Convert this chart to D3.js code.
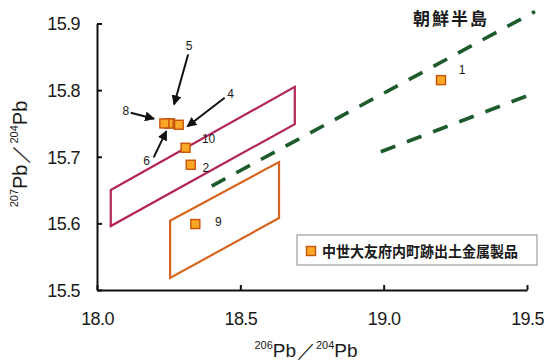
<!DOCTYPE html>
<html><head><meta charset="utf-8">
<script src="https://cdn.jsdelivr.net/npm/d3@7"></script>
<style>
html,body{margin:0;padding:0;background:#fff;}
svg{display:block;}
text{font-family:"Liberation Sans",Arial,sans-serif;fill:#1a1a1a;}
text.cjk{font-family:"Noto Sans CJK JP","Noto Sans CJK SC",sans-serif;}
</style></head>
<body>
<svg id="chart" width="546" height="363"></svg>
<script>
// ---- data ----
const xTicks = [18.0, 18.5, 19.0, 19.5];
const yTicks = [15.5, 15.6, 15.7, 15.8, 15.9];
const sampleIds = ["1", "2", "4", "5", "6", "8", "9", "10"];
const pb206_204 = [19.20, 18.327, 18.285, 18.255, 18.25, 18.235, 18.343, 18.309];
const pb207_204 = [15.815, 15.688, 15.748, 15.750, 15.750, 15.750, 15.599, 15.7135];
const regionRed = [[18.048, 15.650], [18.69, 15.805], [18.69, 15.749], [18.048, 15.596]];
const regionOrange = [[18.255, 15.604], [18.635, 15.692], [18.635, 15.608], [18.255, 15.518]];
const koreaUpper = [[18.40, 15.656], [19.528, 15.918]];
const koreaLower = [[18.99, 15.7075], [19.528, 15.796]];
const koreaLabel = "朝鮮半島";
const legendLabel = "中世大友府内町跡出土金属製品";

// ---- layout (pixels) ----
const labelOffset = {"1":[21,-10],"2":[15,3],"10":[23,-9],"9":[23,-2],"4":[52,-31],"5":[19,-78],"8":[-38.6,-12.3],"6":[-22,37]};
const arrowOffset = {"5":[[18,-69],[4,-19]],"8":[[-33.6,-10.7],[-10.3,-4.7]],"4":[[46,-27],[8.6,1.7]],"6":[[-15,34],[-2.3,7.7]]};

const svg = d3.select("#chart");
const x = d3.scaleLinear().domain([18.0, 19.5]).range([97, 527]);
const y = d3.scaleLinear().domain([15.5, 15.9]).range([290, 23.5]);

const points = sampleIds.map((id, i) => ({id, x: pb206_204[i], y: pb207_204[i]}));

// regions
const line = d3.line().x(d => x(d[0])).y(d => y(d[1]));
svg.append("path").attr("d", line(regionRed) + "Z")
  .attr("fill", "none").attr("stroke", "#b3245a").attr("stroke-width", 2.2).attr("stroke-linejoin", "miter");
svg.append("path").attr("d", line(regionOrange) + "Z")
  .attr("fill", "none").attr("stroke", "#d8651f").attr("stroke-width", 2.2);

// Korean peninsula dashed lines
[koreaUpper, koreaLower].forEach(seg => {
  svg.append("path").attr("d", line(seg))
    .attr("fill", "none").attr("stroke", "#1d5b2c").attr("stroke-width", 3.6)
    .attr("stroke-dasharray", "15.5,12.5");
});
svg.append("text").attr("class", "cjk").attr("x", 413).attr("y", 25)
  .attr("font-size", 17).attr("font-weight", 700)
  .attr("textLength", 74).attr("lengthAdjust", "spacing").text(koreaLabel);

// axes
const xAxis = d3.axisBottom(x).tickValues(xTicks).tickSizeInner(-5).tickSizeOuter(0).tickFormat(d3.format(".1f"));
const gx = svg.append("g").attr("transform", "translate(0,290)").call(xAxis);
const yAxis = d3.axisLeft(y).tickValues(yTicks).tickSizeInner(-5).tickSizeOuter(0).tickFormat(d3.format(".1f"));
const gy = svg.append("g").attr("transform", "translate(97,0)").call(yAxis);
[gx, gy].forEach(g => {
  g.select(".domain").attr("stroke", "#111").attr("stroke-width", 2);
  g.selectAll(".tick line").attr("stroke", "#111").attr("stroke-width", 2);
  g.selectAll(".tick text").attr("font-size", 18).attr("font-family", "Liberation Sans, Arial, sans-serif")
    .attr("fill", "#1a1a1a").attr("letter-spacing", -0.6);
});
gx.selectAll(".tick text").attr("y", 35).attr("dy", 0).attr("dominant-baseline", "auto");
gy.selectAll(".tick text").attr("x", -17).attr("dy", "0.35em");

// axis titles
const xt = svg.append("text").attr("x", 306).attr("y", 357).attr("text-anchor", "middle").attr("font-size", 19);
xt.append("tspan").attr("font-size", 11).attr("dy", -8).text("206");
xt.append("tspan").attr("dy", 8).text("Pb");
xt.append("tspan").attr("font-weight", 300).attr("dx", 1).text("／");
xt.append("tspan").attr("font-size", 11).attr("dy", -8).text("204");
xt.append("tspan").attr("dy", 8).text("Pb");

const yt = svg.append("text").attr("transform", "translate(27,154) rotate(-90)")
  .attr("text-anchor", "middle").attr("font-size", 20);
yt.append("tspan").attr("font-size", 11).attr("dy", -9).text("207");
yt.append("tspan").attr("dy", 9).text("Pb");
yt.append("tspan").attr("font-weight", 300).attr("dx", 1).text("／");
yt.append("tspan").attr("font-size", 11).attr("dy", -9).text("204");
yt.append("tspan").attr("dy", 9).text("Pb");

// arrows
const defs = svg.append("defs");
defs.append("marker").attr("id", "ah").attr("viewBox", "0 0 10 10").attr("refX", 9).attr("refY", 5)
  .attr("markerWidth", 5).attr("markerHeight", 5).attr("orient", "auto")
  .append("path").attr("d", "M0,0 L10,5 L0,10 Z").attr("fill", "#111");
points.filter(p => arrowOffset[p.id]).forEach(p => {
  const [s, e] = arrowOffset[p.id];
  const px = x(p.x), py = y(p.y);
  svg.append("line").attr("x1", px + s[0]).attr("y1", py + s[1]).attr("x2", px + e[0]).attr("y2", py + e[1])
    .attr("stroke", "#111").attr("stroke-width", 2).attr("marker-end", "url(#ah)");
});

// points
const sz = 9;
svg.selectAll("rect.pt").data(points).join("rect").attr("class", "pt")
  .attr("x", d => x(d.x) - sz / 2).attr("y", d => y(d.y) - sz / 2)
  .attr("width", sz).attr("height", sz)
  .attr("fill", "#f8a824").attr("stroke", "#c8520c").attr("stroke-width", 1.4);

svg.selectAll("text.lbl").data(points).join("text").attr("class", "lbl")
  .attr("x", d => x(d.x) + labelOffset[d.id][0]).attr("y", d => y(d.y) + labelOffset[d.id][1])
  .attr("text-anchor", "middle").attr("dy", "0.35em").attr("font-size", 12).text(d => d.id);

// legend
svg.append("rect").attr("x", 297).attr("y", 235).attr("width", 240).attr("height", 30)
  .attr("fill", "#fff").attr("stroke", "#8a8a8a").attr("stroke-width", 1);
svg.append("rect").attr("x", 311 - sz / 2).attr("y", 251 - sz / 2).attr("width", sz).attr("height", sz)
  .attr("fill", "#f8a824").attr("stroke", "#c8520c").attr("stroke-width", 1.4);
svg.append("text").attr("class", "cjk").attr("x", 322).attr("y", 256.5).attr("font-size", 15)
  .attr("font-weight", 700).attr("textLength", 196).attr("lengthAdjust", "spacingAndGlyphs").text(legendLabel);
</script>
</body></html>
